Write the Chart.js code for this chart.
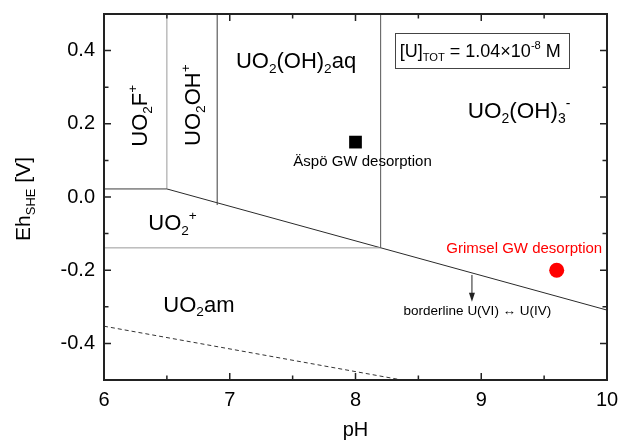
<!DOCTYPE html>
<html>
<head>
<meta charset="utf-8">
<title>Uranium Eh–pH diagram</title>
<script src="https://cdn.jsdelivr.net/npm/chart.js@4/dist/chart.umd.min.js"></script>
<style>
  html, body { margin: 0; padding: 0; background: #fff; }
  #chart { display: block; }
</style>
</head>
<body>
<canvas id="chart" width="620" height="444"></canvas>
<script>
// ---- axis ticks ----
const xTicks = [6, 7, 8, 9, 10];
const yTicks = [-0.4, -0.2, 0.0, 0.2, 0.4];
const xMinorTicks = [6.5, 7.5, 8.5, 9.5];
const yMinorTicks = [-0.3, -0.1, 0.1, 0.3];

// ---- stability-field boundaries (pH, Eh in V) ----
const fluoroLowerPH = [6.0, 6.5];      const fluoroLowerEh = [0.022, 0.022];
const fluoroHydroxoPH = [6.5, 6.5];    const fluoroHydroxoEh = [0.022, 0.5];
const hydroxoAqPH = [6.9, 6.9];        const hydroxoAqEh = [-0.022, 0.5];
const aqTrihydroxoPH = [8.2, 8.2];     const aqTrihydroxoEh = [-0.139, 0.5];
const uo2PlusAmPH = [6.0, 8.2];        const uo2PlusAmEh = [-0.139, -0.139];
const redoxBorderPH = [6.5, 10.0];     const redoxBorderEh = [0.022, -0.309];
const waterLinePH = [6.0, 8.37];       const waterLineEh = [-0.353, -0.5];

// ---- groundwater samples ----
const aspoPH = [8.0];     const aspoEh = [0.15];
const grimselPH = [9.6];  const grimselEh = [-0.2];

const FONT = "'Liberation Sans', Arial, Helvetica, sans-serif";
const pts = (xs, ys) => xs.map((v, i) => ({ x: v, y: ys[i] }));
const boundary = (label, xs, ys, color, dash) => ({
  label, data: pts(xs, ys), showLine: true, borderColor: color, borderWidth: 1,
  borderDash: dash || [], pointRadius: 0, fill: false, tension: 0
});

// text pieces: [text, 'sub' | 'sup' | undefined]
const UO2 = [['UO'], ['2', 'sub']];
const speciesLabels = [
  { parts: [...UO2, ['(OH)'], ['2', 'sub'], ['aq']], pH: 7.527, Eh: 0.352, size: 22 },
  { parts: [...UO2, ['(OH)'], ['3', 'sub'], ['-', 'sup']], pH: 9.30, Eh: 0.215, size: 22.5 },
  { parts: [...UO2, ['F'], ['+', 'sup']], pH: 6.34, Eh: 0.222, size: 22, rotate: true },
  { parts: [...UO2, ['OH'], ['+', 'sup']], pH: 6.763, Eh: 0.251, size: 22, rotate: true },
  { parts: [...UO2, ['+', 'sup']], pH: 6.545, Eh: -0.090, size: 22 },
  { parts: [...UO2, ['am']], pH: 6.755, Eh: -0.313, size: 22 },
  { parts: [['Äspö GW desorption']], pH: 8.056, Eh: 0.0855, size: 15 },
  { parts: [['Grimsel GW desorption']], pH: 9.342, Eh: -0.154, size: 15, color: '#ff0000' },
  { parts: [['borderline U(VI) \u2194 U(IV)']], pH: 8.97, Eh: -0.322, size: 13.5 }
];
const concLabel = {
  parts: [['[U]'], ['TOT', 'sub'], [' = 1.04\u00d710'], ['-8', 'sup'], [' M']],
  pH: 8.992, Eh: 0.3817, size: 18,
  box: { pH0: 8.314, pH1: 9.698, Eh0: 0.3516, Eh1: 0.4473 }
};
const borderArrow = { pH: 8.926, EhFrom: -0.213, EhTo: -0.286 };

function partFont(size, kind) {
  const s = kind ? size * 0.62 : size;
  return s + 'px ' + FONT;
}
function drawRich(ctx, parts, x, y, size, color, rotate) {
  ctx.save();
  ctx.translate(x, y);
  if (rotate) ctx.rotate(-Math.PI / 2);
  ctx.fillStyle = color || '#000';
  ctx.textAlign = 'left';
  ctx.textBaseline = 'alphabetic';
  let w = 0;
  for (const [t, kind] of parts) { ctx.font = partFont(size, kind); w += ctx.measureText(t).width; }
  let cx = -w / 2;
  for (const [t, kind] of parts) {
    ctx.font = partFont(size, kind);
    const dy = kind === 'sub' ? size * 0.22 : kind === 'sup' ? -size * 0.45 : 0;
    ctx.fillText(t, cx, dy);
    cx += ctx.measureText(t).width;
  }
  ctx.restore();
}

const decor = {
  id: 'decor',
  afterDatasetsDraw(chart) {
    const { ctx, chartArea: a, scales: { x, y } } = chart;
    ctx.save();

    // inward tick marks on all four sides
    ctx.strokeStyle = '#222';
    ctx.lineWidth = 1.5;
    const xt = (v, len) => {
      const p = x.getPixelForValue(v);
      ctx.beginPath();
      ctx.moveTo(p, a.bottom); ctx.lineTo(p, a.bottom - len);
      ctx.moveTo(p, a.top); ctx.lineTo(p, a.top + len);
      ctx.stroke();
    };
    const yt = (v, len) => {
      const p = y.getPixelForValue(v);
      ctx.beginPath();
      ctx.moveTo(a.left, p); ctx.lineTo(a.left + len, p);
      ctx.moveTo(a.right, p); ctx.lineTo(a.right - len, p);
      ctx.stroke();
    };
    xTicks.forEach(v => xt(v, 7));
    xMinorTicks.forEach(v => xt(v, 4.5));
    yTicks.forEach(v => yt(v, 7));
    yMinorTicks.forEach(v => yt(v, 4.5));

    // plot frame
    ctx.lineWidth = 2;
    ctx.strokeRect(a.left, a.top, a.right - a.left, a.bottom - a.top);

    // concentration box
    const b = concLabel.box;
    const bx0 = x.getPixelForValue(b.pH0), bx1 = x.getPixelForValue(b.pH1);
    const by0 = y.getPixelForValue(b.Eh1), by1 = y.getPixelForValue(b.Eh0);
    ctx.lineWidth = 1;
    ctx.strokeStyle = '#444';
    ctx.strokeRect(Math.round(bx0) + 0.5, Math.round(by0) + 0.5, Math.round(bx1 - bx0), Math.round(by1 - by0));
    drawRich(ctx, concLabel.parts, x.getPixelForValue(concLabel.pH), y.getPixelForValue(concLabel.Eh), concLabel.size);

    // field and sample labels
    for (const l of speciesLabels) {
      drawRich(ctx, l.parts, x.getPixelForValue(l.pH), y.getPixelForValue(l.Eh), l.size, l.color, l.rotate);
    }

    // arrow pointing from the redox border towards its label
    const ax = x.getPixelForValue(borderArrow.pH);
    const ay0 = y.getPixelForValue(borderArrow.EhFrom), ay1 = y.getPixelForValue(borderArrow.EhTo);
    ctx.strokeStyle = '#222';
    ctx.fillStyle = '#222';
    ctx.lineWidth = 1;
    ctx.beginPath(); ctx.moveTo(ax, ay0); ctx.lineTo(ax, ay1 - 7); ctx.stroke();
    ctx.beginPath(); ctx.moveTo(ax, ay1); ctx.lineTo(ax - 3, ay1 - 9); ctx.lineTo(ax + 3, ay1 - 9); ctx.closePath(); ctx.fill();

    // y-axis title with subscript
    drawRich(ctx, [['Eh'], ['SHE', 'sub'], [' [V]']], 30, (a.top + a.bottom) / 2 + 2, 21, '#000', true);

    ctx.restore();
  }
};

new Chart(document.getElementById('chart'), {
  type: 'scatter',
  data: {
    datasets: [
      boundary('UO2F+ / UO2+', fluoroLowerPH, fluoroLowerEh, '#3c3c3c'),
      boundary('UO2F+ / UO2OH+', fluoroHydroxoPH, fluoroHydroxoEh, '#9a9a9a'),
      boundary('UO2OH+ / UO2(OH)2aq', hydroxoAqPH, hydroxoAqEh, '#3c3c3c'),
      boundary('UO2(OH)2aq / UO2(OH)3-', aqTrihydroxoPH, aqTrihydroxoEh, '#555555'),
      boundary('UO2+ / UO2am', uo2PlusAmPH, uo2PlusAmEh, '#9a9a9a'),
      boundary('U(VI) / U(IV)', redoxBorderPH, redoxBorderEh, '#2a2a2a'),
      boundary('water stability', waterLinePH, waterLineEh, '#333333', [4, 3]),
      {
        label: 'Äspö GW desorption', data: pts(aspoPH, aspoEh),
        pointStyle: 'rect', pointRadius: 9, backgroundColor: '#000', borderColor: '#000', borderWidth: 0
      },
      {
        label: 'Grimsel GW desorption', data: pts(grimselPH, grimselEh),
        pointStyle: 'circle', pointRadius: 7.5, backgroundColor: '#ff0000', borderColor: '#ff0000', borderWidth: 0
      }
    ]
  },
  options: {
    responsive: false,
    animation: false,
    events: [],
    layout: { padding: { left: 0, right: 13, top: 14, bottom: 0 } },
    plugins: { legend: { display: false }, tooltip: { enabled: false } },
    scales: {
      x: {
        type: 'linear', min: 6, max: 10,
        afterBuildTicks: s => { s.ticks = xTicks.map(v => ({ value: v })); },
        afterFit: s => { s.height = 64; s.paddingLeft = 0; s.paddingRight = 0; },
        grid: { display: false, drawTicks: false },
        border: { display: false },
        ticks: { color: '#000', font: { family: FONT, size: 20 }, padding: 8, maxRotation: 0, autoSkip: false,
                 callback: v => String(v) },
        title: { display: true, text: 'pH', color: '#000', font: { family: FONT, size: 20 }, padding: { top: 0, bottom: 2 } }
      },
      y: {
        type: 'linear', min: -0.5, max: 0.5,
        afterBuildTicks: s => { s.ticks = yTicks.map(v => ({ value: v })); },
        afterFit: s => { s.width = 104; s.paddingTop = 0; s.paddingBottom = 0; },
        grid: { display: false, drawTicks: false },
        border: { display: false },
        ticks: { color: '#000', font: { family: FONT, size: 20 }, padding: 9, autoSkip: false,
                 callback: v => v.toFixed(1) }
      }
    }
  },
  plugins: [decor]
});
</script>
</body>
</html>
